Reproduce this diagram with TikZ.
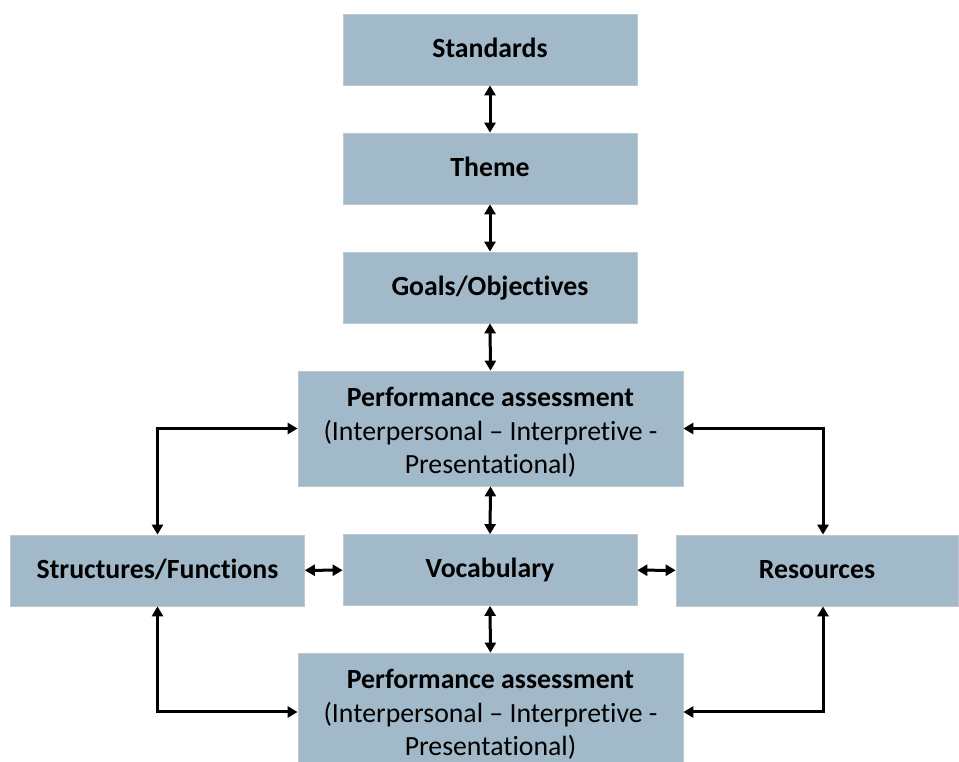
\documentclass[tikz,border=0pt]{standalone}
\usepackage{fontspec}
\setmainfont[RawFeature=-liga]{Carlito}
\usetikzlibrary{arrows.meta}
\definecolor{boxblue}{RGB}{162,185,201}
\definecolor{boxedge}{RGB}{190,200,208}
\newcommand{\padtop}{\rule{0pt}{0.97em}}
\begin{document}
\begin{tikzpicture}[x=0.2mm, y=-0.2mm, font=\fontsize{15.8}{19}\selectfont,
  plain/.style={draw=boxedge, fill=boxblue, inner sep=0pt, align=center},
  box/.style={plain, minimum width=58.8mm, minimum height=14.2mm,
    text height=0.9em, text depth=0pt},
  widebox/.style={plain, minimum width=77mm, minimum height=23mm},
  link/.style={{Triangle[length=2mm,width=2.2mm]}-{Triangle[length=2mm,width=2.2mm]},
    line width=0.6mm}]
  \useasboundingbox (0,0) rectangle (959,762);

  % column of boxes
  \node[box] (std) at (490,49.5) {\textbf{Standards}};
  \node[box] (theme) at (490,168.5) {\textbf{Theme}};
  \node[box] (goals) at (490,287.5) {\textbf{Goals/Objectives}};
  \node[widebox] (pa1) at (490.5,428.5)
    {\padtop\textbf{Performance assessment}\\(Interpersonal -- Interpretive -\\Presentational)};
  \node[box] (voc) at (490,570) {\textbf{Vocabulary}};
  \node[widebox] (pa2) at (490.5,710.5)
    {\padtop\textbf{Performance assessment}\\(Interpersonal -- Interpretive -\\Presentational)};

  % side boxes
  \node[box] (struct) at (157.5,570.5) {\textbf{Structures/Functions}};
  \node[box, minimum width=56.4mm] (res) at (817,570.5) {\textbf{Resources}};

  \foreach \a/\b in {std/theme, theme/goals, goals/pa1, pa1/voc, voc/pa2} {
    \draw[link] (\a.south) -- (\b.north);
  }
  \draw[link] (struct) -- (voc);
  \draw[link] (voc) -- (res);

  % elbow connectors
  \draw[link] (struct.north) |- (pa1.west);
  \draw[link] (pa1.east) -| ([xshift=1.2mm]res.north);
  \draw[link] (struct.south) |- ([yshift=-0.3mm]pa2.west);
  \draw[link] ([yshift=-0.3mm]pa2.east) -| ([xshift=1.2mm]res.south);
\end{tikzpicture}
\end{document}
